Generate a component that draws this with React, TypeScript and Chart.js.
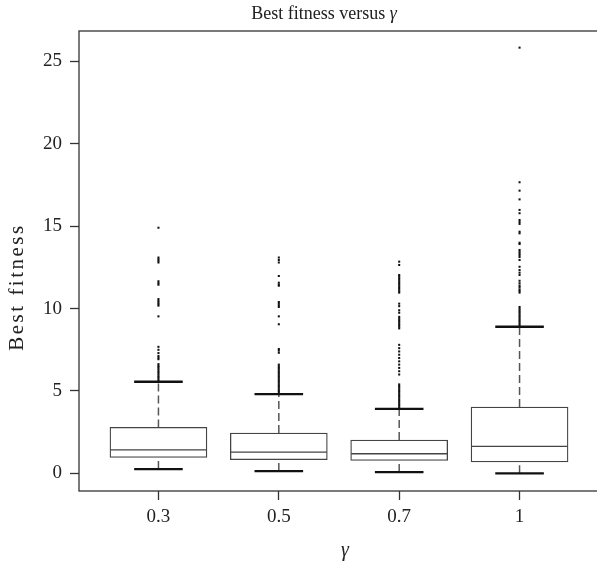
import React, { useEffect, useRef } from "react";
import { Chart, registerables } from "chart.js";

Chart.register(...registerables);

// ---- data ----
const categories = ["0.3", "0.5", "0.7", "1"];
const lowerWhisker = [0.26, 0.14, 0.08, 0.0];
const q1 = [0.97, 0.83, 0.79, 0.69];
const median = [1.43, 1.29, 1.19, 1.64];
const q3 = [2.79, 2.45, 2.02, 4.03];
const upperWhisker = [5.56, 4.81, 3.92, 8.9];

const outliers03 = [
  14.91, 13.1, 13.0, 12.9, 12.8, 11.66, 11.55, 11.45, 10.58, 10.46, 10.36, 10.27, 10.18, 9.53,
  7.68, 7.5, 7.3, 7.12, 7.02, 6.93, 6.63, 6.53, 6.45, 6.35, 6.25, 6.15, 6.05, 5.95, 5.85, 5.75, 5.65,
];
const outliers05 = [
  13.1, 12.95, 12.8, 11.98, 11.57, 11.45, 11.39, 10.4, 10.3, 10.2, 10.1, 9.53, 9.05, 7.55, 7.45,
  7.32, 6.6, 6.5, 6.4, 6.3, 6.2, 6.1, 6.0, 5.9, 5.8, 5.7, 5.6, 5.5, 5.4, 5.3, 5.2, 5.1, 5.0, 4.9,
];
const outliers07 = [
  12.85, 12.65, 12.04, 11.95, 11.85, 11.75, 11.65, 11.55, 11.45, 11.35, 11.25, 11.15, 11.05, 10.97,
  10.3, 10.15, 9.9, 9.75, 9.5, 9.4, 9.3, 9.2, 9.1, 9.0, 8.9, 8.8, 7.8, 7.6, 7.4, 7.2, 7.0, 6.8, 6.6,
  6.4, 6.2, 6.0, 5.4, 5.3, 5.2, 5.1, 5.0, 4.9, 4.8, 4.7, 4.6, 4.5, 4.4, 4.3, 4.2, 4.1, 4.0,
];
const outliers1 = [
  25.84, 17.67, 17.16, 16.63, 15.99, 15.79, 15.38, 15.26, 15.14, 14.67, 14.57, 14.0, 13.92, 13.56,
  13.45, 13.35, 13.25, 13.13, 12.95, 12.54, 12.34, 12.18, 12.04, 11.69, 11.54, 11.4, 11.3, 11.17,
  11.07, 10.97, 10.1, 10.0, 9.9, 9.8, 9.7, 9.6, 9.5, 9.4, 9.3, 9.2, 9.1, 9.0,
];
const outlierGroups = [outliers03, outliers05, outliers07, outliers1];
const yTicks = [0, 5, 10, 15, 20, 25];

const titleText = "Best fitness versus ";
const titleSymbol = "γ";
const yTitle = "Best fitness";
const xTitle = "γ";

const FONT = "'Liberation Serif', 'DejaVu Serif', serif";

const textPlugin = {
  id: "customText",
  afterDraw(chart: any) {
    const ctx = chart.ctx;
    const a = chart.chartArea;
    ctx.save();
    // frame
    ctx.strokeStyle = "#333";
    ctx.lineWidth = 1.3;
    ctx.strokeRect(a.left, a.top, a.right - a.left, a.bottom - a.top);
    ctx.fillStyle = "#222";
    // title
    ctx.font = `18px ${FONT}`;
    const w1 = ctx.measureText(titleText).width;
    ctx.font = `italic 18px ${FONT}`;
    const w2 = ctx.measureText(titleSymbol).width;
    const cx = 324;
    const start = cx - (w1 + w2) / 2;
    ctx.textBaseline = "alphabetic";
    ctx.textAlign = "left";
    ctx.font = `18px ${FONT}`;
    ctx.fillText(titleText, start, 19);
    ctx.font = `italic 18px ${FONT}`;
    ctx.fillText(titleSymbol, start + w1, 19);
    // x title
    ctx.textAlign = "center";
    ctx.textBaseline = "middle";
    ctx.font = `italic 20px ${FONT}`;
    ctx.fillText(xTitle, 345, 551);
    // y title
    ctx.translate(17, 287);
    ctx.rotate(-Math.PI / 2);
    ctx.font = `21px ${FONT}`;
    (ctx as any).letterSpacing = "2.5px";
    ctx.fillText(yTitle, 0, 0);
    ctx.restore();
  },
};

export default function App() {
  const ref = useRef<HTMLCanvasElement>(null);

  useEffect(() => {
    if (!ref.current) return;
    const whiskerData: any[] = [];
    categories.forEach((_, i) => {
      whiskerData.push({ x: i, y: q3[i] }, { x: i, y: upperWhisker[i] }, { x: i, y: null });
      whiskerData.push({ x: i, y: lowerWhisker[i] }, { x: i, y: q1[i] }, { x: i, y: null });
    });
    const capData: any[] = [];
    categories.forEach((_, i) => {
      capData.push({ x: i, y: upperWhisker[i] }, { x: i, y: lowerWhisker[i] });
    });
    const outlierData: any[] = [];
    outlierGroups.forEach((g, i) => g.forEach((v) => outlierData.push({ x: i, y: v })));

    const chart = new Chart(ref.current, {
      type: "bar",
      data: {
        datasets: [
          {
            type: "line",
            data: whiskerData,
            borderColor: "#555",
            borderWidth: 1.5,
            borderDash: [8, 4],
            pointRadius: 0,
            spanGaps: false,
            order: 5,
          } as any,
          {
            type: "bar",
            data: categories.map((_, i) => ({ x: i, y: [q1[i], q3[i]] })),
            backgroundColor: "#fff",
            borderColor: "#444",
            borderWidth: 1.3,
            borderSkipped: false,
            barThickness: 97,
            order: 4,
          } as any,
          {
            type: "scatter",
            data: categories.map((_, i) => ({ x: i, y: median[i] })),
            pointStyle: "line",
            pointRadius: 48,
            borderColor: "#444",
            borderWidth: 1.3,
            order: 3,
          } as any,
          {
            type: "scatter",
            data: capData,
            pointStyle: "line",
            pointRadius: 24.3,
            borderColor: "#111",
            borderWidth: 2.3,
            order: 2,
          } as any,
          {
            type: "scatter",
            data: outlierData,
            pointStyle: "rect",
            pointRadius: 1.45,
            backgroundColor: "#111",
            borderWidth: 0,
            order: 1,
          } as any,
        ],
      },
      options: {
        animation: false,
        responsive: false,
        events: [],
        layout: { autoPadding: false, padding: { top: 31, right: 3, left: 0, bottom: 0 } },
        plugins: { legend: { display: false }, tooltip: { enabled: false }, title: { display: false } },
        scales: {
          x: {
            type: "linear",
            offset: false,
            min: -0.66,
            max: 3.66,
            border: { display: false },
            grid: {
              offset: false,
              drawOnChartArea: false,
              drawTicks: true,
              tickLength: 9,
              tickColor: "#333",
              tickWidth: 1.3,
            },
            afterBuildTicks: (scale: any) => {
              scale.ticks = categories.map((_, i) => ({ value: i }));
            },
            afterFit: (scale: any) => {
              scale.height = 73;
            },
            ticks: {
              callback: (v: any) => categories[v] ?? "",
              font: { family: FONT, size: 19 },
              color: "#222",
              padding: 6,
              maxRotation: 0,
              autoSkip: false,
            },
          },
          y: {
            type: "linear",
            offset: false,
            min: -1.07,
            max: 26.85,
            border: { display: false },
            grid: { drawOnChartArea: false, drawTicks: true, tickLength: 9, tickColor: "#333", tickWidth: 1.3 },
            afterBuildTicks: (scale: any) => {
              scale.ticks = yTicks.map((v) => ({ value: v }));
            },
            afterFit: (scale: any) => {
              scale.width = 79;
            },
            ticks: {
              font: { family: FONT, size: 19 },
              color: "#222",
              padding: 8,
            },
          },
        },
      },
      plugins: [textPlugin],
    });
    return () => chart.destroy();
  }, []);

  return (
    <div style={{ position: "fixed", left: 0, top: 0, width: 597, height: 564, overflow: "hidden", background: "#fff" }}>
      <canvas ref={ref} width={602} height={564} style={{ width: 602, height: 564, display: "block" }} />
    </div>
  );
}
